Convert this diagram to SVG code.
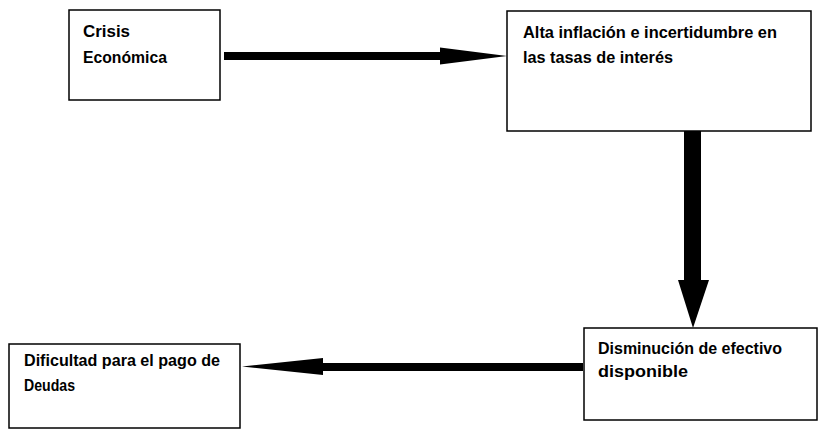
<svg xmlns="http://www.w3.org/2000/svg" width="818" height="430" viewBox="0 0 818 430">
<style>
.box{fill:#fff;stroke:#000;stroke-width:1.5}
.t{font-family:"Liberation Sans Narrow","Liberation Sans",Arial,sans-serif;font-weight:bold;font-size:17px;fill:#000}
.arr{fill:#000;stroke:none}
</style>
<rect width="818" height="430" fill="#fff"/>
<g id="connectors">
<polygon class="arr" points="224,52 440,52 440,47.5 507,56 440,64.5 440,60 224,60"/>
<polygon class="arr" points="684,131 701,131 701,280 709,280 693,328 678,280 684,280"/>
<polygon class="arr" points="583,363 323,363 323,358 242,366.5 323,375 323,371 583,371"/>
</g>
<g id="n1">
<rect class="box" x="69" y="10" width="151" height="90"/>
<text class="t" x="83" y="37" textLength="47" lengthAdjust="spacingAndGlyphs">Crisis</text>
<text class="t" x="83" y="63" textLength="84" lengthAdjust="spacingAndGlyphs">Económica</text>
</g>
<g id="n2">
<rect class="box" x="507" y="11" width="304" height="120"/>
<text class="t" x="523" y="38" textLength="254" lengthAdjust="spacingAndGlyphs">Alta inflación e incertidumbre en</text>
<text class="t" x="523" y="63" textLength="150" lengthAdjust="spacingAndGlyphs">las tasas de interés</text>
</g>
<g id="n3">
<rect class="box" x="584" y="328" width="233" height="92"/>
<text class="t" x="598" y="354" textLength="184" lengthAdjust="spacingAndGlyphs">Disminución de efectivo</text>
<text class="t" x="598" y="377" textLength="90" lengthAdjust="spacingAndGlyphs">disponible</text>
</g>
<g id="n4">
<rect class="box" x="9" y="344" width="231" height="84"/>
<text class="t" x="24" y="366" textLength="196" lengthAdjust="spacingAndGlyphs">Dificultad para el pago de</text>
<text class="t" x="24" y="391" textLength="51" lengthAdjust="spacingAndGlyphs">Deudas</text>
</g>
</svg>
